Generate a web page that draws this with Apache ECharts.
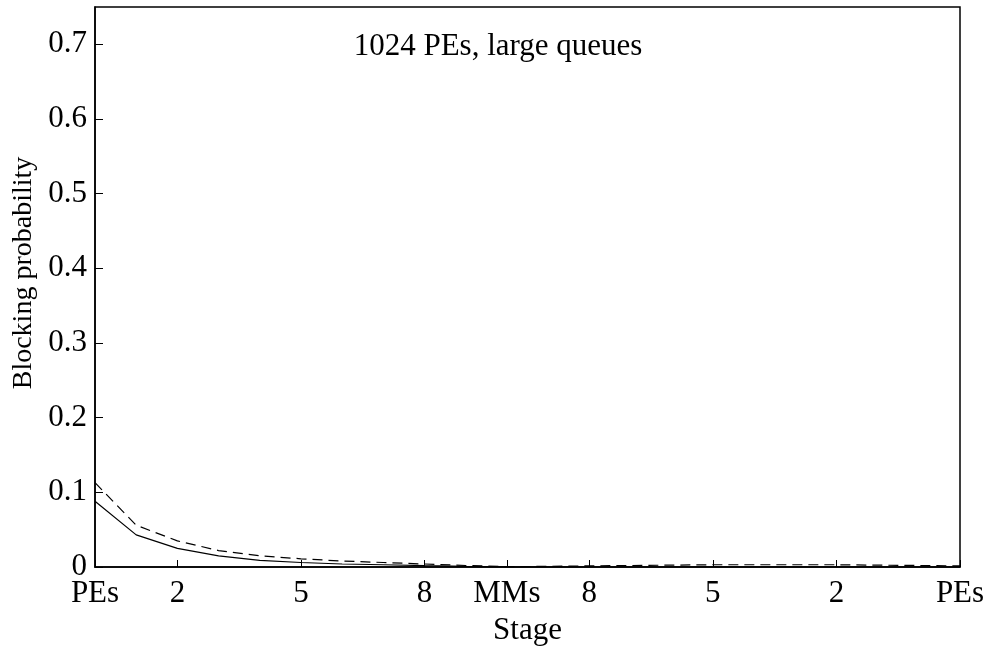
<!DOCTYPE html>
<html>
<head>
<meta charset="utf-8">
<script src="https://cdn.jsdelivr.net/npm/echarts@6/dist/echarts.min.js"></script>
<style>
  html, body { margin: 0; padding: 0; background: #fff; }
  #chart { width: 990px; height: 648px; }
</style>
</head>
<body>
<div id="chart"></div>
<script>
// stage index 0..21 (PEs -> MMs -> PEs)
const stages = [0, 1, 2, 3, 4, 5, 6, 7, 8, 9, 10, 11, 12, 13, 14, 15, 16, 17, 18, 19, 20, 21];
const solidValues = [0.088, 0.043, 0.025, 0.015, 0.009, 0.006, 0.004, 0.003, 0.0018, 0.0008, 0.0002,
  0, 0, 0, 0, 0, 0, 0, 0, 0, 0, 0];
const dashedValues = [0.113, 0.056, 0.035, 0.022, 0.015, 0.011, 0.008, 0.006, 0.004, 0.002, 0.0005,
  0.0008, 0.0015, 0.002, 0.0025, 0.003, 0.003, 0.003, 0.003, 0.0025, 0.002, 0.0015];
const tickPositions = [0, 2, 5, 8, 10, 12, 15, 18, 21];
const tickLabels = ['PEs', '2', '5', '8', 'MMs', '8', '5', '2', 'PEs'];
const yTicks = [0, 0.1, 0.2, 0.3, 0.4, 0.5, 0.6, 0.7];

const FONT = '"Liberation Serif", "DejaVu Serif", serif';

const chart = echarts.init(document.getElementById('chart'));

chart.setOption({
  backgroundColor: '#fff',
  animation: false,
  title: {
    text: '1024 PEs, large queues',
    left: 493,
    top: 26,
    textAlign: 'center',
    textStyle: { fontFamily: FONT, fontSize: 31, fontWeight: 'normal', color: '#000' }
  },
  grid: {
    left: 95, right: 30, top: 7, bottom: 81,
    outerBoundsMode: 'none',
    containLabel: false,
    show: true, borderColor: '#000', borderWidth: 1.5, backgroundColor: 'transparent'
  },
  xAxis: {
    type: 'value',
    min: 0, max: 21,
    name: 'Stage',
    nameLocation: 'middle',
    nameGap: 48,
    nameTextStyle: { fontFamily: FONT, fontSize: 31, color: '#000' },
    axisLine: { show: true, onZero: false, lineStyle: { color: '#000', width: 1.5 } },
    axisTick: { show: true, inside: true, length: 7, customValues: tickPositions,
      lineStyle: { color: '#000', width: 1 } },
    axisLabel: {
      customValues: tickPositions,
      fontFamily: FONT, fontSize: 31, color: '#000', margin: 11,
      formatter: v => tickLabels[tickPositions.indexOf(v)] || ''
    },
    splitLine: { show: false }
  },
  yAxis: {
    type: 'value',
    min: 0, max: 0.75,
    name: 'Blocking probability',
    nameLocation: 'middle',
    nameGap: 55,
    nameTextStyle: { fontFamily: FONT, fontSize: 28, color: '#000', padding: [0, 0, 0, 28] },
    axisLine: { show: true, lineStyle: { color: '#000', width: 1.5 } },
    axisTick: { show: true, inside: true, length: 8, customValues: yTicks,
      lineStyle: { color: '#000', width: 1 } },
    axisLabel: {
      customValues: yTicks,
      fontFamily: FONT, fontSize: 31, color: '#000', margin: 8,
      formatter: v => (v === 0 ? '0' : v.toFixed(1))
    },
    splitLine: { show: false }
  },
  series: [
    {
      type: 'line',
      data: stages.map((s, i) => [s, solidValues[i]]),
      showSymbol: false,
      lineStyle: { color: '#000', width: 1.2, type: 'solid' },
      z: 3
    },
    {
      type: 'line',
      data: stages.map((s, i) => [s, dashedValues[i]]),
      showSymbol: false,
      lineStyle: { color: '#000', width: 1.2, type: [10, 6] },
      z: 2
    }
  ]
});
</script>
</body>
</html>
